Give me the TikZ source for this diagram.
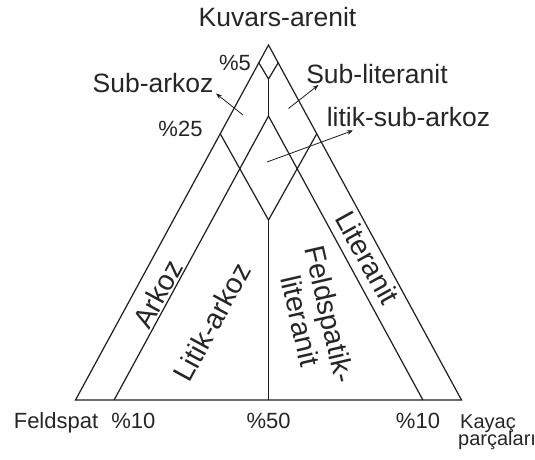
\documentclass[tikz,border=0pt]{standalone}
\usepackage{fontspec}
\setmainfont{Liberation Sans}
\usetikzlibrary{arrows.meta}
\definecolor{ink}{HTML}{1E1E1E}
\definecolor{txt}{HTML}{262626}
\begin{document}
\begin{tikzpicture}[x=1pt,y=-1pt,
  edge/.style={draw=ink,line width=1.2pt,line join=miter},
  pointer/.style={draw=ink,line width=0.8pt,-{Stealth[length=6pt,width=4.5pt]}},
  biglbl/.style={font=\fontsize{26.5}{30}\selectfont,text=txt,inner sep=0pt,anchor=base},
  pctlbl/.style={font=\fontsize{22}{26}\selectfont,text=txt,inner sep=0pt,anchor=base},
  cornerlbl/.style={font=\fontsize{20}{22}\selectfont,text=txt,inner sep=0pt,anchor=base west},
  rotlbl/.style={font=\fontsize{28.5}{30}\selectfont,text=txt,inner sep=0pt,anchor=center,align=center}]
\useasboundingbox[fill=white] (0,0) rectangle (535,459);
% geometry
\coordinate (A) at (268.5,45);
\coordinate (BL) at (75.5,400);
\coordinate (BR) at (461.5,400);
\coordinate (P5L) at (258.85,62.75);
\coordinate (P5R) at (278.15,62.75);
\coordinate (D5) at (268.5,79);
\coordinate (Q) at (268.5,116);
\coordinate (P25L) at (220.25,133.75);
\coordinate (P25R) at (316.75,133.75);
\coordinate (D25) at (268.5,220);
\coordinate (T10L) at (114.1,400);
\coordinate (T10R) at (422.9,400);
\coordinate (M50) at (268.5,400);
% lines
\draw[edge] (A) -- (BL) -- (BR) -- cycle;
\draw[edge] (P5L) -- (D5) -- (P5R);
\draw[edge] (D5) -- (Q);
\draw[edge] (T10L) -- (Q) -- (T10R);
\draw[edge] (P25L) -- (D25) -- (P25R);
\draw[edge] (D25) -- (M50);
% top labels
\node[biglbl] (kuv) at (277.5,26.7) {Kuvars-arenit};
\node[pctlbl] (p5) at (235,70) {\%5};
\node[biglbl] (subark) at (153,92.3) {Sub-arkoz};
\node[biglbl] (sublit) at (377,83.8) {Sub-literanit};
\node[pctlbl] (p25) at (180.5,136.8) {\%25};
\node[biglbl] (lsa) at (408.5,126) {litik-sub-arkoz};
% arrows
\coordinate (a1s) at (243,115);
\coordinate (a1e) at (216,93.5);
\coordinate (a2s) at (288.5,108.5);
\coordinate (a2e) at (318.5,85);
\coordinate (a3s) at (267,162);
\coordinate (a3e) at (353,130.5);
\draw[pointer] (a1s) -- (a1e);
\draw[pointer] (a2s) -- (a2e);
\draw[pointer] (a3s) -- (a3e);
% rotated labels
\node[rotlbl,rotate=61.5] (ark) at (157.5,294) {Arkoz};
\node[rotlbl,rotate=61.5] (litark) at (212,322) {Litik-arkoz};
\node[rotlbl,rotate=-61] (lit) at (367.5,257.5) {Literanit};
\node[rotlbl,rotate=-77] (fl) at (315.3,317.5) {Feldspatik-\\literanit};
% bottom labels
\node[pctlbl] (feld) at (56,428) {Feldspat};
\node[pctlbl] (p10l) at (133.4,428) {\%10};
\node[pctlbl] (p50) at (268.6,428) {\%50};
\node[pctlbl] (p10r) at (418,428) {\%10};
\node[cornerlbl] (kay) at (460,428) {Kayaç};
\node[cornerlbl] (parc) at (458,445) {parçaları};
\end{tikzpicture}
\end{document}
